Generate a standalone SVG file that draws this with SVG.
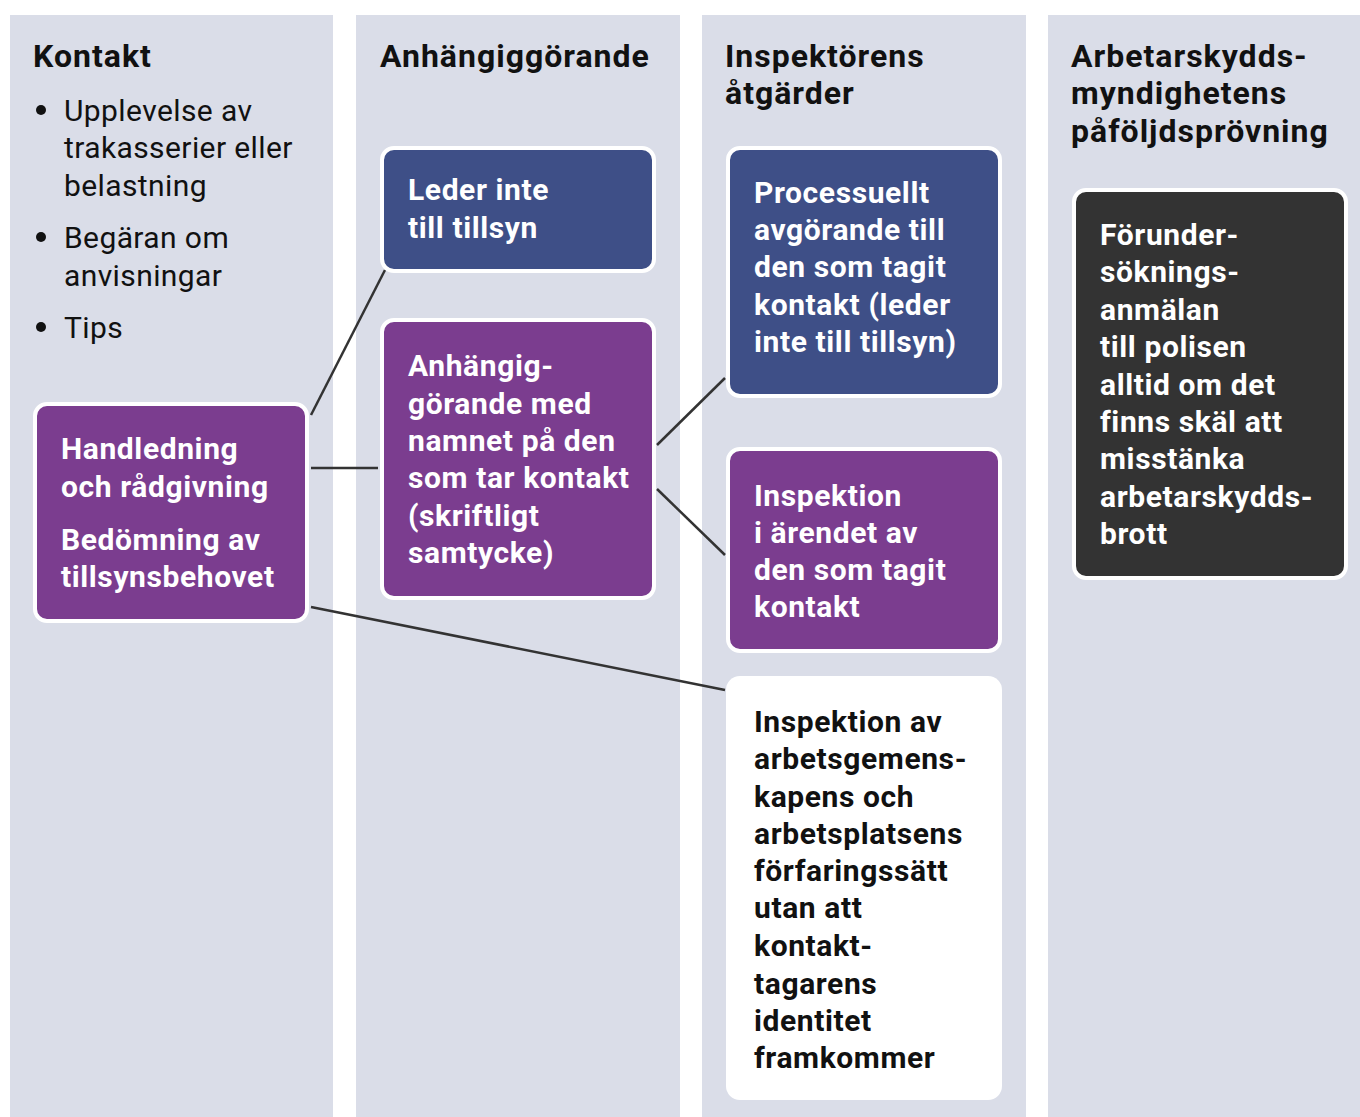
<svg xmlns="http://www.w3.org/2000/svg" width="1360" height="1117" viewBox="0 0 1360 1117">
<style>
.col{fill:#DADDE8}
.box{stroke:#ffffff;stroke-width:4}
.purple{fill:#7B3D8F}
.blue{fill:#3E4F87}
.dark{fill:#333333}
.white{fill:#ffffff}
text{font-family:Roboto,"Liberation Sans",sans-serif;font-size:30px;letter-spacing:0.6px}
.h{font-weight:700;fill:#111111;font-size:32px;letter-spacing:1px}
.b{font-weight:400;fill:#111111;letter-spacing:0.4px}
.w{font-weight:700;fill:#ffffff}
.k{font-weight:700;fill:#111111}
.conn line{stroke:#333333;stroke-width:2.5;fill:none}
</style>
<rect width="1360" height="1117" fill="#ffffff"/>
<g id="columns">
<rect class="col" x="10" y="15" width="323" height="1102"/>
<rect class="col" x="356" y="15" width="324" height="1102"/>
<rect class="col" x="702" y="15" width="324" height="1102"/>
<rect class="col" x="1048" y="15" width="312" height="1102"/>
</g>
<g id="headers">
<text class="h" x="33" y="67">Kontakt</text>
<text class="h" x="380" y="67">Anhängiggörande</text>
<text class="h" x="725" y="67">Inspektörens</text>
<text class="h" x="725" y="104">åtgärder</text>
<text class="h" x="1071" y="67">Arbetarskydds-</text>
<text class="h" x="1071" y="104">myndighetens</text>
<text class="h" x="1071" y="142">påföljdsprövning</text>
</g>
<g id="bullets">
<circle cx="41" cy="110" r="5" fill="#111111"/>
<circle cx="41" cy="237" r="5" fill="#111111"/>
<circle cx="41" cy="327" r="5" fill="#111111"/>
<text class="b" x="64" y="121">Upplevelse av</text>
<text class="b" x="64" y="158">trakasserier eller</text>
<text class="b" x="64" y="196">belastning</text>
<text class="b" x="64" y="248">Begäran om</text>
<text class="b" x="64" y="286">anvisningar</text>
<text class="b" x="64" y="338">Tips</text>
</g>
<g class="conn" id="connectors">
<line x1="311" y1="415" x2="385" y2="270"/>
<line x1="311" y1="468" x2="378" y2="468"/>
<line x1="657" y1="445" x2="725" y2="378"/>
<line x1="657" y1="489" x2="725" y2="555"/>
<line x1="311" y1="607" x2="725" y2="690"/>
</g>
<g id="handledning">
<rect class="box purple" x="35" y="404" width="272" height="217" rx="12"/>
<text class="w" x="61" y="459">Handledning</text>
<text class="w" x="61" y="497">och rådgivning</text>
<text class="w" x="61" y="550">Bedömning av</text>
<text class="w" x="61" y="587">tillsynsbehovet</text>
</g>
<g id="leder-inte">
<rect class="box blue" x="382" y="148" width="272" height="123" rx="12"/>
<text class="w" x="408" y="200">Leder inte</text>
<text class="w" x="408" y="238">till tillsyn</text>
</g>
<g id="anhangig">
<rect class="box purple" x="382" y="320" width="272" height="278" rx="12"/>
<text class="w" x="408" y="376">Anhängig-</text>
<text class="w" x="408" y="414">görande med</text>
<text class="w" x="408" y="451">namnet på den</text>
<text class="w" x="408" y="488">som tar kontakt</text>
<text class="w" x="408" y="526">(skriftligt</text>
<text class="w" x="408" y="563">samtycke)</text>
</g>
<g id="processuellt">
<rect class="box blue" x="728" y="148" width="272" height="248" rx="12"/>
<text class="w" x="754" y="203">Processuellt</text>
<text class="w" x="754" y="240">avgörande till</text>
<text class="w" x="754" y="277">den som tagit</text>
<text class="w" x="754" y="315">kontakt (leder</text>
<text class="w" x="754" y="352">inte till tillsyn)</text>
</g>
<g id="inspektion-arendet">
<rect class="box purple" x="728" y="449" width="272" height="202" rx="12"/>
<text class="w" x="754" y="506">Inspektion</text>
<text class="w" x="754" y="543">i ärendet av</text>
<text class="w" x="754" y="580">den som tagit</text>
<text class="w" x="754" y="617">kontakt</text>
</g>
<g id="inspektion-arbetsgemenskap">
<rect class="white" x="726" y="676" width="276" height="424" rx="14"/>
<text class="k" x="754" y="732">Inspektion av</text>
<text class="k" x="754" y="769">arbetsgemens-</text>
<text class="k" x="754" y="807">kapens och</text>
<text class="k" x="754" y="844">arbetsplatsens</text>
<text class="k" x="754" y="881">förfaringssätt</text>
<text class="k" x="754" y="918">utan att</text>
<text class="k" x="754" y="956">kontakt-</text>
<text class="k" x="754" y="994">tagarens</text>
<text class="k" x="754" y="1031">identitet</text>
<text class="k" x="754" y="1068">framkommer</text>
</g>
<g id="forundersokning">
<rect class="box dark" x="1074" y="190" width="272" height="388" rx="12"/>
<text class="w" x="1100" y="245">Förunder-</text>
<text class="w" x="1100" y="282">söknings-</text>
<text class="w" x="1100" y="320">anmälan</text>
<text class="w" x="1100" y="357">till polisen</text>
<text class="w" x="1100" y="395">alltid om det</text>
<text class="w" x="1100" y="432">finns skäl att</text>
<text class="w" x="1100" y="469">misstänka</text>
<text class="w" x="1100" y="507">arbetarskydds-</text>
<text class="w" x="1100" y="544">brott</text>
</g>
</svg>
